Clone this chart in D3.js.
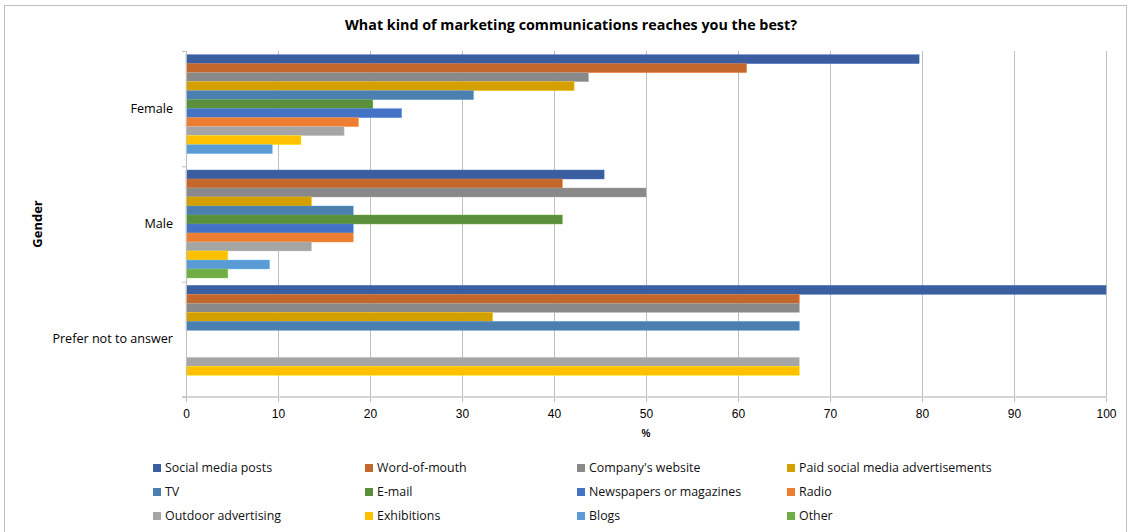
<!DOCTYPE html>
<html>
<head>
<meta charset="utf-8">
<script src="https://cdn.jsdelivr.net/npm/d3@7"></script>
<style>
  html, body { margin: 0; padding: 0; background: #fff; }
  svg { display: block; }
</style>
</head>
<body>
<svg id="chart" width="1131" height="532"></svg>
<script>
// Survey: "What kind of marketing communications reaches you the best?" by gender (%)
const categories = ["Female", "Male", "Prefer not to answer"];
const seriesNames = [
  "Social media posts", "Word-of-mouth", "Company's website", "Paid social media advertisements",
  "TV", "E-mail", "Newspapers or magazines", "Radio",
  "Outdoor advertising", "Exhibitions", "Blogs", "Other"
];
const seriesColors = [
  "#3A5E9F", "#C4672C", "#898989", "#D4A000",
  "#4A7FB0", "#5A8F3B", "#4472C4", "#ED7D31",
  "#A5A5A5", "#FFC000", "#5B9BD5", "#70AD47"
];
// one array per gender, in series order
const femaleValues = [79.69, 60.94, 43.75, 42.19, 31.25, 20.31, 23.44, 18.75, 17.19, 12.5, 9.38, 0];
const maleValues   = [45.45, 40.91, 50.0, 13.64, 18.18, 40.91, 18.18, 18.18, 13.64, 4.55, 9.09, 4.55];
const preferValues = [100, 66.67, 66.67, 33.33, 66.67, 0, 0, 0, 66.67, 66.67, 0, 0];
const xTicks = [0, 10, 20, 30, 40, 50, 60, 70, 80, 90, 100];

const valuesByCategory = [femaleValues, maleValues, preferValues];

const svg = d3.select("#chart");
const plot = { left: 186, right: 1106, top: 51, bottom: 397 };

// chart frame
svg.append("rect")
  .attr("x", 4.5).attr("y", 5.5)
  .attr("width", 1122).attr("height", 540)
  .attr("fill", "none").attr("stroke", "#BFBFBF").attr("stroke-width", 1);

// title
svg.append("text")
  .attr("x", 571).attr("y", 30)
  .attr("text-anchor", "middle")
  .attr("font-family", "'Open Sans', sans-serif")
  .attr("font-weight", "bold")
  .attr("font-size", 13.5)
  .attr("fill", "#000")
  .attr("textLength", 452)
  .attr("lengthAdjust", "spacingAndGlyphs")
  .text("What kind of marketing communications reaches you the best?");

const x = d3.scaleLinear().domain([0, 100]).range([plot.left, plot.right]);
const pad = 0.0636;
const y = d3.scaleBand().domain(categories).range([plot.top, plot.bottom])
  .paddingInner(pad).paddingOuter(pad / 2);
const ySub = d3.scaleBand().domain(seriesNames).range([0, y.bandwidth()]);

// vertical gridlines with tick marks below the axis
const grid = svg.append("g");
grid.selectAll("line")
  .data(xTicks)
  .join("line")
  .attr("x1", d => x(d) + 0.5).attr("x2", d => x(d) + 0.5)
  .attr("y1", plot.top).attr("y2", plot.bottom + 5)
  .attr("stroke", "#BFBFBF").attr("stroke-width", 1);

// bars
const groups = svg.append("g").selectAll("g")
  .data(categories)
  .join("g")
  .attr("transform", d => `translate(0,${y(d)})`);

groups.selectAll("rect")
  .data((c, i) => seriesNames.map((s, j) => ({ s, v: valuesByCategory[i][j], color: seriesColors[j] })))
  .join("rect")
  .attr("x", x(0))
  .attr("y", d => ySub(d.s))
  .attr("width", d => x(d.v) - x(0))
  .attr("height", ySub.bandwidth())
  .attr("fill", d => d.color)
  .attr("stroke", d => d.v > 0 ? d3.color(d.color).brighter(0.6) : "none")
  .attr("stroke-width", 0.6)
  .attr("stroke-opacity", 0.7);

// x axis
const xAxis = d3.axisBottom(x).tickValues(xTicks).tickSize(0).tickPadding(0);
const xg = svg.append("g")
  .attr("transform", `translate(0,${plot.bottom})`)
  .call(xAxis);
xg.select(".domain").attr("stroke", "#D4D4D4").attr("stroke-width", 2)
  .attr("d", `M${plot.left - 4},0H${plot.right + 1}`);
xg.selectAll("text")
  .attr("dy", 0).attr("y", 21)
  .attr("font-family", "'Liberation Sans Narrow', 'Liberation Sans', sans-serif")
  .attr("font-size", 12)
  .attr("fill", "#000");

svg.append("text")
  .attr("x", x(50)).attr("y", 437)
  .attr("text-anchor", "middle")
  .attr("font-family", "'Liberation Sans Narrow', 'Liberation Sans', sans-serif")
  .attr("font-size", 10)
  .attr("font-weight", "bold")
  .text("%");

// y axis
const yAxis = d3.axisLeft(y).tickSize(0).tickPadding(13);
const yg = svg.append("g")
  .attr("transform", `translate(${plot.left},0)`)
  .call(yAxis);
yg.select(".domain").attr("stroke", "#BFBFBF").attr("stroke-width", 1)
  .attr("d", `M0.5,${plot.top}V${plot.bottom}`);
yg.selectAll("text")
  .attr("font-family", "'Open Sans', sans-serif")
  .attr("font-size", 12.6)
  .attr("fill", "#000");
// category boundary ticks
const bounds = [plot.top, ...categories.slice(1).map(c => y(c) - y.step() * pad / 2), plot.bottom];
svg.append("g").selectAll("line")
  .data(bounds)
  .join("line")
  .attr("x1", plot.left - 4).attr("x2", plot.left)
  .attr("y1", d => d + 0.5).attr("y2", d => d + 0.5)
  .attr("stroke", "#BFBFBF");

svg.append("text")
  .attr("transform", `translate(42,224) rotate(-90)`)
  .attr("text-anchor", "middle")
  .attr("font-family", "'Open Sans', sans-serif")
  .attr("font-weight", "bold")
  .attr("font-size", 13)
  .text("Gender");

// legend, 4 columns x 3 rows
const legendCols = [153, 365, 577, 787];
const legendRows = [468, 492, 516];
const legend = svg.append("g").selectAll("g")
  .data(seriesNames)
  .join("g")
  .attr("transform", (d, i) => `translate(${legendCols[i % 4]},${legendRows[Math.floor(i / 4)]})`);
legend.append("rect")
  .attr("x", 0).attr("y", -4)
  .attr("width", 8).attr("height", 8)
  .attr("fill", (d, i) => seriesColors[i]);
legend.append("text")
  .attr("x", 12).attr("y", 0)
  .attr("dy", "0.35em")
  .attr("font-family", "'Open Sans', sans-serif")
  .attr("font-size", 12.4)
  .attr("fill", "#111")
  .text(d => d);
</script>
</body>
</html>
